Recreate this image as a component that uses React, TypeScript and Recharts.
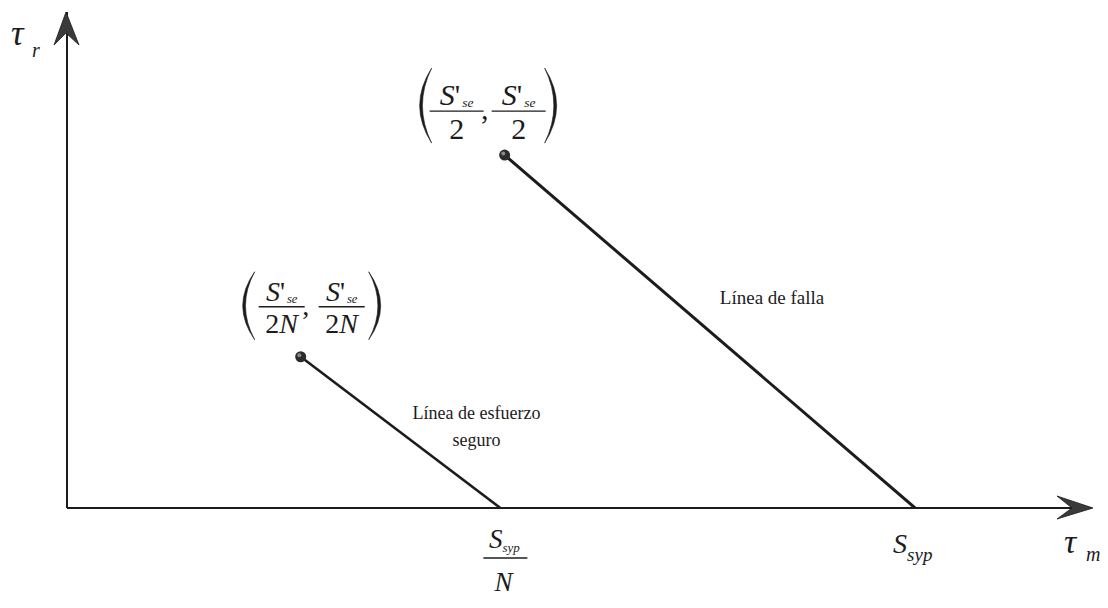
import { ComposedChart, Line, ReferenceDot, ReferenceLine, XAxis, YAxis } from "recharts"

// axis extents (τm, τr) in stress units
const TM_MAX = 12.05
const TR_MAX = 6.1

// failure line: (S'se/2, S'se/2) -> (Ssyp, 0)
const failureTm = [5.15, 9.98]
const failureTr = [4.34, 0]

// safe-stress line: (S'se/2N, S'se/2N) -> (Ssyp/N, 0)
const safeTm = [2.75, 5.1]
const safeTr = [1.86, 0]

const failureLine = failureTm.map((tm, i) => ({ tm, tr: failureTr[i] }))
const safeLine = safeTm.map((tm, i) => ({ tm, tr: safeTr[i] }))

const SERIF = "'Liberation Serif', 'Times New Roman', serif"
const INK = "#1c1c1c"
const W = 1108
const H = 608

function Paren({ x, top, bottom, w, left }: { x: number; top: number; bottom: number; w: number; left: boolean }) {
  const mid = (top + bottom) / 2
  const dir = left ? 1 : -1
  const ends = x + dir * w
  const c1 = 2 * x - ends
  const c2 = 2 * (x + dir * 2.8) - ends
  return (
    <path
      d={`M${ends},${top} Q${c1},${mid} ${ends},${bottom} Q${c2},${mid} ${ends},${top}Z`}
      fill={INK}
      stroke={INK}
      strokeWidth={0.6}
    />
  )
}

function Fraction({ cx, barY, w, den, size }: { cx: number; barY: number; w: number; den: React.ReactNode; size: number }) {
  return (
    <g fontFamily={SERIF} fill={INK}>
      <text x={cx} y={barY - 6} textAnchor="middle" fontSize={size}>
        <tspan fontStyle="italic">S</tspan>
        <tspan>'</tspan>
        <tspan fontStyle="italic" fontSize={size * 0.45} dx={2} dy={2}>se</tspan>
      </text>
      <line x1={cx - w / 2} x2={cx + w / 2} y1={barY} y2={barY} stroke={INK} strokeWidth={1.3} />
      <text x={cx} y={barY + size - 2} textAnchor="middle" fontSize={size}>
        {den}
      </text>
    </g>
  )
}

type LabelCfg = {
  lx: number
  rx: number
  top: number
  bottom: number
  c1: number
  c2: number
  barY: number
  barW: number
  commaX: number
  size: number
  den: React.ReactNode
}

function Ball({ cx, cy }: { cx: number; cy: number }) {
  return (
    <g>
      <circle cx={cx} cy={cy} r={5.5} fill="#2c2c2c" />
      <circle cx={cx - 1.4} cy={cy - 1.6} r={2} fill="#8a8a8a" />
    </g>
  )
}

function pointLabel(cfg: LabelCfg) {
  return (props: any) => {
    const { cx, cy } = props
    return (
      <g>
        <Ball cx={cx} cy={cy} />
        <Paren x={cx + cfg.lx} top={cy + cfg.top} bottom={cy + cfg.bottom} w={12} left />
        <Paren x={cx + cfg.rx} top={cy + cfg.top} bottom={cy + cfg.bottom} w={12} left={false} />
        <Fraction cx={cx + cfg.c1} barY={cy + cfg.barY} w={cfg.barW} den={cfg.den} size={cfg.size} />
        <text x={cx + cfg.commaX} y={cy + cfg.barY + 8} fontFamily={SERIF} fontSize={cfg.size} fill={INK} textAnchor="middle">
          ,
        </text>
        <Fraction cx={cx + cfg.c2} barY={cy + cfg.barY} w={cfg.barW} den={cfg.den} size={cfg.size} />
      </g>
    )
  }
}

const twoN = (
  <>
    <tspan>2</tspan>
    <tspan fontStyle="italic">N</tspan>
  </>
)

const failurePointLabel = pointLabel({
  lx: -85, rx: 52, top: -87, bottom: -12,
  c1: -48, c2: 14, barY: -44, barW: 54, commaX: -20, size: 30, den: "2",
})

const safePointLabel = pointLabel({
  lx: -58, rx: 80, top: -85, bottom: -17,
  c1: -19, c2: 41, barY: -50, barW: 46, commaX: 5, size: 28, den: twoN,
})

function TmArrow(props: any) {
  const { cx, cy } = props
  return (
    <g>
      <path d={`M${cx + 2},${cy} L${cx - 34},${cy - 12} L${cx - 19},${cy} L${cx - 34},${cy + 11}Z`} fill="#3a3a3a" stroke={INK} strokeWidth={0.8} />
      <text x={cx - 27} y={cy + 45} fontFamily={SERIF} fontStyle="italic" fontSize={34} fill={INK}>τ</text>
      <text x={cx - 5} y={cy + 53} fontFamily={SERIF} fontStyle="italic" fontSize={20} fill={INK}>m</text>
    </g>
  )
}

function TrArrow(props: any) {
  const { cx, cy } = props
  return (
    <g>
      <path d={`M${cx - 1},${cy} L${cx - 13},${cy + 33} L${cx - 1},${cy + 21} L${cx + 12},${cy + 33}Z`} fill="#3a3a3a" stroke={INK} strokeWidth={0.8} />
      <text x={cx - 56} y={cy + 33} fontFamily={SERIF} fontStyle="italic" fontSize={35} fill={INK}>τ</text>
      <text x={cx - 35} y={cy + 45} fontFamily={SERIF} fontStyle="italic" fontSize={20} fill={INK}>r</text>
    </g>
  )
}

function SsypOverN(props: any) {
  const { cx, cy } = props
  return (
    <g fontFamily={SERIF} fill={INK}>
      <text x={cx + 4} y={cy + 40} textAnchor="middle" fontSize={27}>
        <tspan fontStyle="italic">S</tspan>
        <tspan fontStyle="italic" fontSize={13} dy={4}>syp</tspan>
      </text>
      <line x1={cx - 17} x2={cx + 27} y1={cy + 50} y2={cy + 50} stroke={INK} strokeWidth={1.3} />
      <text x={cx + 3} y={cy + 83} textAnchor="middle" fontSize={27} fontStyle="italic">N</text>
    </g>
  )
}

function Ssyp(props: any) {
  const { cx, cy } = props
  return (
    <text x={cx - 22} y={cy + 45} fontFamily={SERIF} fontSize={28} fill={INK}>
      <tspan fontStyle="italic">S</tspan>
      <tspan fontStyle="italic" fontSize={19} dy={8}>syp</tspan>
    </text>
  )
}

function FailureText(props: any) {
  const { cx, cy } = props
  return (
    <text x={cx + 10} y={cy - 28} fontFamily={SERIF} fontSize={19} fill={INK}>
      Línea de falla
    </text>
  )
}

function SafeText(props: any) {
  const { cx, cy } = props
  return (
    <text fontFamily={SERIF} fontSize={18} fill={INK} textAnchor="middle">
      <tspan x={cx + 76} y={cy - 13}>Línea de esfuerzo</tspan>
      <tspan x={cx + 76} y={cy + 14}>seguro</tspan>
    </text>
  )
}

const mid = (a: number[]) => (a[0] + a[1]) / 2

export default function App() {
  return (
    <div style={{ position: "absolute", left: 0, top: 0, width: W, height: H, background: "#fff" }}>
      <ComposedChart width={W} height={H} margin={{ top: 12, right: 17, bottom: 100, left: 67 }}>
        <XAxis type="number" dataKey="tm" domain={[0, TM_MAX]} hide allowDataOverflow />
        <YAxis type="number" dataKey="tr" domain={[0, TR_MAX]} hide allowDataOverflow />
        <ReferenceLine y={0} stroke={INK} strokeWidth={2} />
        <ReferenceLine x={0} stroke={INK} strokeWidth={2} />
        <Line data={failureLine} dataKey="tr" stroke={INK} strokeWidth={3} dot={false} isAnimationActive={false} />
        <Line data={safeLine} dataKey="tr" stroke={INK} strokeWidth={2.6} dot={false} isAnimationActive={false} />
        <ReferenceDot x={TM_MAX} y={0} shape={TmArrow} />
        <ReferenceDot x={0} y={TR_MAX} shape={TrArrow} />
        <ReferenceDot x={failureTm[0]} y={failureTr[0]} shape={failurePointLabel} />
        <ReferenceDot x={safeTm[0]} y={safeTr[0]} shape={safePointLabel} />
        <ReferenceDot x={safeTm[1]} y={safeTr[1]} shape={SsypOverN} />
        <ReferenceDot x={failureTm[1]} y={failureTr[1]} shape={Ssyp} />
        <ReferenceDot x={mid(failureTm)} y={mid(failureTr)} shape={FailureText} />
        <ReferenceDot x={mid(safeTm)} y={mid(safeTr)} shape={SafeText} />
      </ComposedChart>
    </div>
  )
}
